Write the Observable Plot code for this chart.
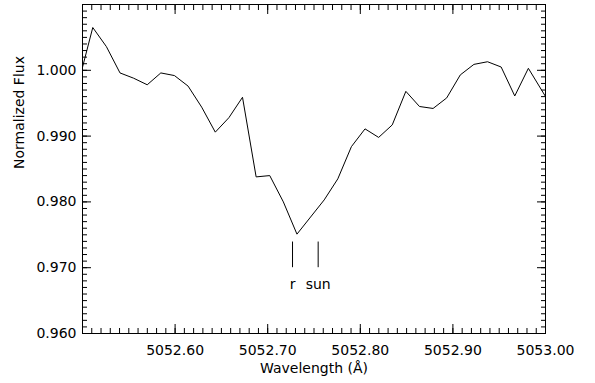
<!DOCTYPE html>
<html>
<head>
<meta charset="utf-8">
<script src="https://cdn.jsdelivr.net/npm/d3@7"></script>
<script src="https://cdn.jsdelivr.net/npm/@observablehq/plot@0.6"></script>
<style>
  html, body { margin: 0; padding: 0; background: #fff; }
  #chart svg { display: block; }
</style>
</head>
<body>
<div id="chart"></div>
<script>
// Spectrum samples (wavelength in Å, normalized flux)
const wavelength = [
  5052.4964, 5052.5111, 5052.5258, 5052.5405, 5052.5552, 5052.5699, 5052.5846,
  5052.5993, 5052.6140, 5052.6287, 5052.6434, 5052.6581, 5052.6728, 5052.6875,
  5052.7022, 5052.7169, 5052.7316, 5052.7463, 5052.7610, 5052.7757, 5052.7904,
  5052.8051, 5052.8198, 5052.8345, 5052.8492, 5052.8639, 5052.8786, 5052.8933,
  5052.9080, 5052.9227, 5052.9374, 5052.9521, 5052.9668, 5052.9815, 5052.9962,
  5053.0109
];
const flux = [
  0.9985, 1.0065, 1.0036, 0.9996, 0.9988, 0.9978, 0.9996,
  0.9992, 0.9976, 0.9944, 0.9906, 0.9928, 0.9959, 0.9838,
  0.9840, 0.9800, 0.9751, 0.9777, 0.9803, 0.9835, 0.9884,
  0.9911, 0.9898, 0.9917, 0.9968, 0.9945, 0.9942, 0.9958,
  0.9993, 1.0009, 1.0013, 1.0005, 0.9961, 1.0003, 0.9969,
  0.9935
];

// Line markers
const markerLabels = ["r", "sun"];
const markerWave = [5052.7268, 5052.7545];

// Axis ticks
const xMajorTicks = [5052.60, 5052.70, 5052.80, 5052.90, 5053.00];
const yMajorTicks = [0.960, 0.970, 0.980, 0.990, 1.000];
const xMinorTicks = d3.range(0, 51).map(i => +(5052.50 + i * 0.01).toFixed(2));
const yMinorTicks = d3.range(0, 51).map(i => +(0.960 + i * 0.001).toFixed(3));

const xTitle = "Wavelength (Å)";
const yTitle = "Normalized Flux";

const spectrum = wavelength.map((w, i) => ({w, f: flux[i]}));
const markers = markerWave.map((w, i) => ({w, label: markerLabels[i]}));

const font = "DejaVu Sans, Liberation Sans, sans-serif";

const chart = Plot.plot({
  width: 595,
  height: 383,
  marginLeft: 82,
  marginRight: 50,
  marginTop: 4,
  marginBottom: 50,
  style: {fontFamily: font, fontSize: "14px", color: "#000", background: "#fff"},
  x: {domain: [5052.50, 5053.00]},
  y: {domain: [0.960, 1.010]},
  marks: [
    // minor ticks, all four sides, pointing inward
    Plot.axisX({anchor: "bottom", ticks: xMinorTicks, tickSize: -5, tickFormat: () => "", label: null}),
    Plot.axisX({anchor: "top", ticks: xMinorTicks, tickSize: -5, tickFormat: () => "", label: null}),
    Plot.axisY({anchor: "left", ticks: yMinorTicks, tickSize: -5, tickFormat: () => "", label: null}),
    Plot.axisY({anchor: "right", ticks: yMinorTicks, tickSize: -5, tickFormat: () => "", label: null}),
    // major ticks
    Plot.axisX({anchor: "bottom", ticks: xMajorTicks, tickSize: -9, tickPadding: 21,
      tickFormat: d3.format(".2f"), label: null, fill: "#000"}),
    Plot.axisX({anchor: "top", ticks: xMajorTicks, tickSize: -9, tickFormat: () => "", label: null}),
    Plot.axisY({anchor: "left", ticks: yMajorTicks, tickSize: -9, tickPadding: 15,
      tickFormat: d3.format(".3f"), label: null, fill: "#000"}),
    Plot.axisY({anchor: "right", ticks: yMajorTicks, tickSize: -9, tickFormat: () => "", label: null}),
    Plot.frame({stroke: "#000", strokeWidth: 1}),
    // spectrum
    Plot.line(spectrum, {x: "w", y: "f", stroke: "#000", strokeWidth: 1, clip: true}),
    // markers
    Plot.ruleX(markers, {x: "w", y1: 0.9700, y2: 0.9739, stroke: "#000", strokeWidth: 1}),
    Plot.text(markers, {x: "w", y: 0.9675, text: "label", fill: "#000",
      textAnchor: "middle", lineAnchor: "middle", fontSize: 14, letterSpacing: "0.5px"}),
    // titles
    Plot.text([xTitle], {frameAnchor: "bottom", dy: 35, text: d => d, fill: "#000",
      lineAnchor: "middle", fontSize: 14}),
    Plot.text([yTitle], {frameAnchor: "left", dx: -63, rotate: -90, text: d => d, fill: "#000",
      lineAnchor: "middle", fontSize: 14})
  ]
});

document.getElementById("chart").appendChild(chart);
</script>
</body>
</html>
